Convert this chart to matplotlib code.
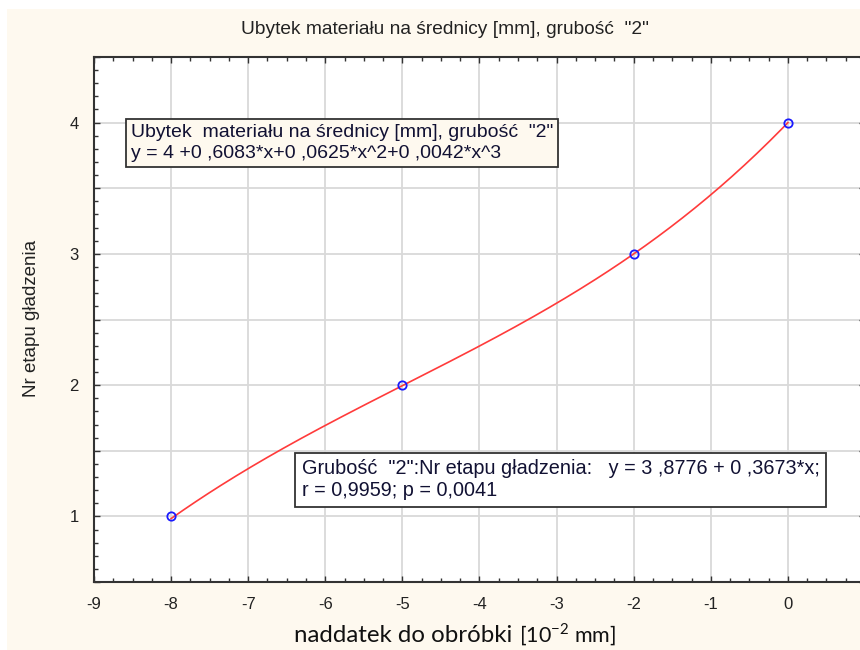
import numpy as np
import matplotlib
matplotlib.use("Agg")
import matplotlib.pyplot as plt
from matplotlib.patches import Rectangle
from matplotlib.ticker import MultipleLocator, FuncFormatter

# measured points
naddatek = [-8, -5, -2, 0]
nr_etapu = [1, 2, 3, 4]
# cubic fit coefficients as printed on the chart (highest power first)
fit_coef = [0.0042, 0.0625, 0.6083, 4.0]

x_ticks = [-9, -8, -7, -6, -5, -4, -3, -2, -1, 0, 1]
y_ticks = [1, 2, 3, 4]

title = 'Ubytek materiału na średnicy [mm], grubość  "2"'
box1_text = 'Ubytek  materiału na średnicy [mm], grubość  "2"\ny = 4 +0 ,6083*x+0 ,0625*x^2+0 ,0042*x^3'
box2_text = 'Grubość  "2":Nr etapu gładzenia:   y = 3 ,8776 + 0 ,3673*x;\nr = 0,9959; p = 0,0041'

plt.rcParams['font.family'] = ['Liberation Sans', 'DejaVu Sans']
plt.rcParams['axes.unicode_minus'] = False
plt.rcParams['mathtext.fontset'] = 'custom'
plt.rcParams['mathtext.rm'] = 'Lato'
cream = '#fef9ef'

W, H = 860, 650
fig = plt.figure(figsize=(W / 100, H / 100), dpi=100, facecolor='white')
fig.patches.append(Rectangle((7 / W, 0), 1, 1 - 9 / H, transform=fig.transFigure,
                             facecolor=cream, edgecolor='none', zorder=-10))

ax = fig.add_axes([94 / W, 1 - 582 / H, 771 / W, 525 / H])
ax.set_facecolor('white')

xs = np.linspace(min(naddatek), max(naddatek), 200)
ax.plot(xs, np.polyval(fit_coef, xs), color='#ff3b3b', lw=1.2, zorder=3)
ax.plot(naddatek, nr_etapu, 'o', ms=6, mfc='none', mec='#1a1aff', mew=1.3, zorder=4)

ax.set_xlim(-9, 1)
ax.set_ylim(0.5, 4.5)
ax.set_xticks(x_ticks)
ax.xaxis.set_minor_locator(MultipleLocator(0.25))
ax.yaxis.set_major_locator(MultipleLocator(0.5))
ax.yaxis.set_minor_locator(MultipleLocator(0.1))
ax.yaxis.set_major_formatter(FuncFormatter(lambda v, p: '%d' % v if abs(v - round(v)) < 1e-6 else ''))
ax.grid(True, which='major', color='#d9d9d9', lw=1.3, zorder=0)
ax.set_axisbelow(True)

ax.tick_params(which='both', direction='in', top=True, right=True, colors='#333333',
               labelcolor='#222222', labelsize=12)
ax.tick_params(which='major', length=4, width=1)
ax.tick_params(which='minor', length=3, width=1)
ax.tick_params(axis='x', pad=11)
ax.tick_params(axis='y', pad=11)
for s in ax.spines.values():
    s.set_color('#333333')
    s.set_linewidth(1.5)

fig.text(445 / W, 1 - 30 / H, title, ha='center', va='center', fontsize=13.8, color='#222222')

fig.text(131 / W, 1 - 143 / H, box1_text, ha='left', va='center', fontsize=14,
         color='#111133', linespacing=1.3,
         bbox=dict(boxstyle='square,pad=0.25', facecolor=cream, edgecolor='#333333', lw=1.3))
fig.text(302 / W, 1 - 480 / H, box2_text, ha='left', va='center', fontsize=14.3,
         color='#111133', linespacing=1.2,
         bbox=dict(boxstyle='square,pad=0.33', facecolor='white', edgecolor='#333333', lw=1.3))

fig.text(32 / W, 1 - 318 / H, 'Nr etapu gładzenia', rotation=90, ha='center', va='center',
         fontsize=13.5, color='#222222')
fig.text(512 / W, 1 - 636 / H, 'naddatek do obróbki', ha='right', va='center',
         fontsize=17.3, family=['Lato', 'DejaVu Sans'], color='#111111')
fig.text(519 / W, 1 - 635 / H, r'[10$^{\mathrm{-2}}$ mm]', ha='left', va='center',
         fontsize=15.5, family=['Lato', 'DejaVu Sans'], color='#111111')

fig.savefig('out.png', dpi=100, facecolor=fig.get_facecolor())
